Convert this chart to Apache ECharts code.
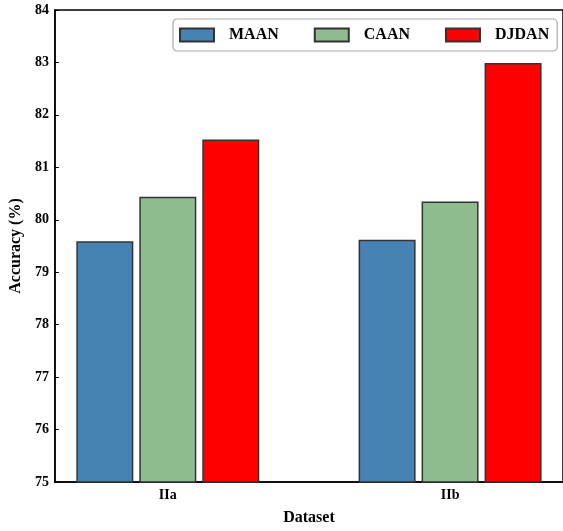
<!DOCTYPE html>
<html>
<head>
<meta charset="utf-8">
<script src="https://cdn.jsdelivr.net/npm/echarts@6/dist/echarts.min.js"></script>
<style>html,body{margin:0;padding:0;background:#fff;}#c{width:563px;height:531px;}</style>
</head>
<body>
<div id="c"></div>
<script>
const categories = ['IIa', 'IIb'];
const seriesNames = ['MAAN', 'CAAN', 'DJDAN'];
const maanValues = [79.59, 79.62];
const caanValues = [80.44, 80.35];
const djdanValues = [81.53, 82.99];
const yTicks = [75, 76, 77, 78, 79, 80, 81, 82, 83, 84];
const colors = ['#4682B4', '#8FBC8F', '#FF0000'];

const FONT = '"Liberation Serif", "Times New Roman", serif';
const allValues = [maanValues, caanValues, djdanValues];
const catIdx = categories.map((c, i) => i);

const chart = echarts.init(document.getElementById('c'), null, {renderer: 'canvas'});
chart.setOption({
  animation: false,
  backgroundColor: '#fff',
  textStyle: {fontFamily: FONT},
  grid: {left: 53, top: 10, width: 512, height: 481, show: true, borderColor: '#000', borderWidth: 1.5, backgroundColor: 'transparent'},
  legend: {
    left: 173, top: 19,
    padding: [8, 8, 8, 6],
    icon: 'rect',
    itemWidth: 34, itemHeight: 13, itemGap: 35,
    borderColor: '#aaa', borderWidth: 1.2, borderRadius: 4,
    textStyle: {fontFamily: FONT, fontWeight: 'bold', fontSize: 16, color: '#000', padding: [0, 0, 0, 10]},
    data: seriesNames
  },
  xAxis: {
    type: 'value', min: -0.4, max: 1.4,
    name: 'Dataset', nameLocation: 'middle', nameGap: 28,
    nameTextStyle: {fontFamily: FONT, fontWeight: 'bold', fontSize: 16, color: '#000'},
    axisLine: {onZero: false, lineStyle: {color: '#000', width: 1.5}},
    axisTick: {show: true, inside: true, length: 3, customValues: catIdx, lineStyle: {color: '#666'}},
    axisLabel: {customValues: catIdx, formatter: v => categories[Math.round(v)] || '', fontFamily: FONT, fontWeight: 'bold', fontSize: 14, color: '#000', margin: 6},
    splitLine: {show: false}
  },
  yAxis: {
    type: 'value', min: 75, max: 84, interval: 1,
    name: 'Accuracy (%)', nameLocation: 'middle', nameGap: 27,
    nameTextStyle: {fontFamily: FONT, fontWeight: 'bold', fontSize: 16, color: '#000'},
    axisLine: {show: true, onZero: false, lineStyle: {color: '#000', width: 1.5}},
    axisTick: {show: true, inside: true, length: 4, lineStyle: {color: '#000'}},
    axisLabel: {fontFamily: FONT, fontWeight: 'bold', fontSize: 14, color: '#000', margin: 6},
    splitLine: {show: false}
  },
  series: seriesNames.map((name, s) => ({
    name: name, type: 'bar',
    barWidth: 57, barGap: '10.5%',
    itemStyle: {color: colors[s], borderColor: '#333', borderWidth: 1.5},
    data: allValues[s].map((v, i) => [i, v])
  }))
});
</script>
</body>
</html>
